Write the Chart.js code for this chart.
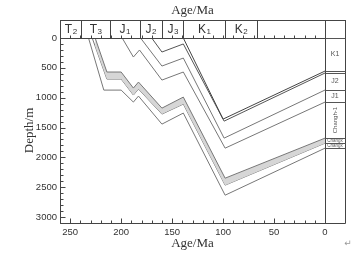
<!DOCTYPE html>
<html>
<head>
<meta charset="utf-8">
<script src="https://cdn.jsdelivr.net/npm/chart.js@4.4.1/dist/chart.umd.min.js"></script>
<style>
  html, body { margin: 0; padding: 0; background: #fff; }
</style>
</head>
<body>
<canvas id="myChart" width="360" height="255"></canvas>
<script>
'use strict';

// burial curves, age in Ma and depth in m
const k1aAge = [139, 100, 0];
const k1aDepth = [0, 1359, 554];
const k1bAge = [170, 160, 139, 99, 0];
const k1bDepth = [0, 235, 100, 1393, 587];
const j2Age = [181, 160, 139, 99, 0];
const j2Depth = [0, 470, 336, 1678, 872];
const j1Age = [199, 188, 182, 160, 139, 98, 0];
const j1Depth = [0, 319, 201, 705, 570, 1846, 1074];
const chTopAge = [225.5, 214, 200, 188, 183, 160, 139, 98, 0];
const chTopDepth = [0, 570, 570, 839, 738, 1175, 990, 2349, 1678];
const chMidAge = [228.4, 214, 200, 188, 183, 160, 139, 98, 0];
const chMidDepth = [0, 688, 688, 956, 856, 1275, 1107, 2466, 1762];
const chBotAge = [232, 217, 200, 188, 183, 160, 139, 98, 0];
const chBotDepth = [0, 873, 873, 1074, 973, 1443, 1258, 2634, 1846];

// stratigraphic band along the top
const stageNames = ['T', 'T', 'J', 'J', 'J', 'K', 'K', ''];
const stageSubs = ['2', '3', '1', '2', '3', '1', '2', ''];
const stageBounds = [260, 239, 211, 182, 160, 139, 98, 67, 0];

// column on the right (present-day depth cells)
const colLabels = ['K1', 'J2', 'J1', 'Changh-1', 'Changx', 'Changx'];
const colTops = [0, 587, 872, 1074, 1678, 1762];
const colBottoms = [554, 872, 1074, 1678, 1762, 1846];

const xTickLabels = [250, 200, 150, 100, 50, 0];
const yTickLabels = [0, 500, 1000, 1500, 2000, 2500, 3000];

function pts(ages, depths) {
  return ages.map((a, i) => ({ x: a, y: depths[i] }));
}

function curve(ages, depths, color, extra) {
  return Object.assign({
    data: pts(ages, depths),
    showLine: true,
    borderColor: color,
    borderWidth: 1,
    pointRadius: 0,
    fill: false,
    tension: 0
  }, extra || {});
}

const frameColor = '#444';

const decor = {
  id: 'decor',
  afterDraw(chart) {
    const ctx = chart.ctx;
    const xs = chart.scales.x, ys = chart.scales.y;
    const a = chart.chartArea;
    const colRight = a.right + 20;
    const bandTop = 20;
    ctx.save();
    ctx.strokeStyle = frameColor;
    ctx.lineWidth = 1;

    function line(x1, y1, x2, y2) {
      ctx.beginPath();
      ctx.moveTo(x1, y1);
      ctx.lineTo(x2, y2);
      ctx.stroke();
    }
    const L = Math.round(a.left) + 0.5, R = Math.round(a.right) + 0.5;
    const T = Math.round(a.top) + 0.5, B = Math.round(a.bottom) + 0.5;
    const CR = Math.round(colRight) + 0.5;

    // frame, band and right column
    line(L, bandTop + 0.5, CR, bandTop + 0.5);
    line(L, T, CR, T);
    line(L, B, CR, B);
    line(L, bandTop, L, B);
    line(R, bandTop, R, B);
    line(CR, bandTop, CR, B);

    // ticks
    for (let v = 0; v <= 260; v += 10) {
      const px = Math.round(xs.getPixelForValue(v)) + 0.5;
      const len = v % 50 === 0 ? 5 : 3;
      line(px, B, px, B - len);
      line(px, T, px, T - 3);
    }
    for (let d = 0; d <= 3100; d += 100) {
      const py = Math.round(ys.getPixelForValue(d)) + 0.5;
      const len = d % 500 === 0 ? 5 : 3;
      line(L, py, L + len, py);
    }

    // stage band
    ctx.fillStyle = '#333';
    ctx.textBaseline = 'alphabetic';
    for (let i = 0; i < stageNames.length; i++) {
      const x1 = xs.getPixelForValue(stageBounds[i]);
      const x2 = xs.getPixelForValue(stageBounds[i + 1]);
      if (i > 0) line(Math.round(x1) + 0.5, bandTop, Math.round(x1) + 0.5, T);
      if (!stageNames[i]) continue;
      ctx.font = '12px "Liberation Sans", Arial, sans-serif';
      const w1 = ctx.measureText(stageNames[i]).width;
      ctx.font = '8px "Liberation Sans", Arial, sans-serif';
      const w2 = ctx.measureText(stageSubs[i]).width;
      const sx = (x1 + x2) / 2 - (w1 + w2) / 2;
      ctx.font = '12px "Liberation Sans", Arial, sans-serif';
      ctx.fillText(stageNames[i], sx, 33);
      ctx.font = '8px "Liberation Sans", Arial, sans-serif';
      ctx.fillText(stageSubs[i], sx + w1 + 0.5, 34);
    }

    // right column cells
    ctx.strokeStyle = '#555';
    ctx.fillStyle = '#555';
    ctx.textAlign = 'center';
    ctx.textBaseline = 'middle';
    colBottoms.forEach((d) => {
      const py = Math.round(ys.getPixelForValue(d)) + 0.5;
      line(R, py, CR, py);
    });
    colTops.forEach((d) => {
      const py = Math.round(ys.getPixelForValue(d)) + 0.5;
      line(R, py, CR, py);
    });
    const cx = (a.right + colRight) / 2;
    colLabels.forEach((lab, i) => {
      const y1 = ys.getPixelForValue(colTops[i]);
      const y2 = ys.getPixelForValue(colBottoms[i]);
      const cy = (y1 + y2) / 2;
      if (lab.length > 4 && y2 - y1 > 20) {
        ctx.save();
        ctx.translate(cx, cy);
        ctx.rotate(-Math.PI / 2);
        ctx.font = '6px "Liberation Sans", Arial, sans-serif';
        ctx.fillText(lab, 0, 0);
        ctx.restore();
      } else if (lab.length > 4) {
        ctx.font = '4.5px "Liberation Sans", Arial, sans-serif';
        ctx.fillText(lab, cx, cy + 0.5);
      } else {
        ctx.font = '7px "Liberation Sans", Arial, sans-serif';
        ctx.fillText(lab, cx, cy);
      }
    });

    // top title
    ctx.fillStyle = '#333';
    ctx.font = '13px "Liberation Serif", "Times New Roman", serif';
    ctx.fillText('Age/Ma', (a.left + a.right) / 2, 11);

    ctx.fillStyle = '#999';
    ctx.font = '9px "DejaVu Sans", sans-serif';
    ctx.fillText('\u21B5', 348, 244);
    ctx.restore();
  }
};

const tickFont = { family: '"Liberation Sans", Arial, sans-serif', size: 9.5 };
const titleFont = { family: '"Liberation Serif", "Times New Roman", serif', size: 13 };

new Chart('myChart', {
  type: 'scatter',
  data: {
    datasets: [
      curve(k1aAge, k1aDepth, '#444'),
      curve(k1bAge, k1bDepth, '#555'),
      curve(j2Age, j2Depth, '#777'),
      curve(j1Age, j1Depth, '#777'),
      curve(chTopAge, chTopDepth, '#777', { fill: '+1', backgroundColor: '#d6d6d6' }),
      curve(chMidAge, chMidDepth, '#777'),
      curve(chBotAge, chBotDepth, '#777')
    ]
  },
  options: {
    responsive: false,
    animation: false,
    devicePixelRatio: 1,
    layout: { padding: { top: 38, right: 35, left: 0, bottom: 0 } },
    plugins: { legend: { display: false }, tooltip: { enabled: false } },
    scales: {
      x: {
        type: 'linear',
        reverse: true,
        min: 0,
        max: 260,
        grid: { display: false, drawTicks: false },
        border: { display: false },
        ticks: {
          autoSkip: false,
          padding: 4,
          color: '#333',
          font: tickFont,
          maxRotation: 0,
          callback: (v) => String(v)
        },
        afterBuildTicks: (s) => { s.ticks = xTickLabels.map((v) => ({ value: v })); },
        title: { display: true, text: 'Age/Ma', color: '#333', font: titleFont, padding: { top: 0, bottom: 4 } },
        afterFit: (s) => { s.height = 32; }
      },
      y: {
        type: 'linear',
        reverse: true,
        min: 0,
        max: 3100,
        grid: { display: false, drawTicks: false },
        border: { display: false },
        ticks: {
          autoSkip: false,
          padding: 3,
          color: '#333',
          font: tickFont,
          callback: (v) => String(v)
        },
        afterBuildTicks: (s) => { s.ticks = yTickLabels.map((v) => ({ value: v })); },
        title: { display: true, text: 'Depth/m', color: '#333', font: titleFont, padding: { top: 22, bottom: 0 } },
        afterFit: (s) => { s.width = 60; }
      }
    }
  },
  plugins: [decor]
});
</script>
</body>
</html>
